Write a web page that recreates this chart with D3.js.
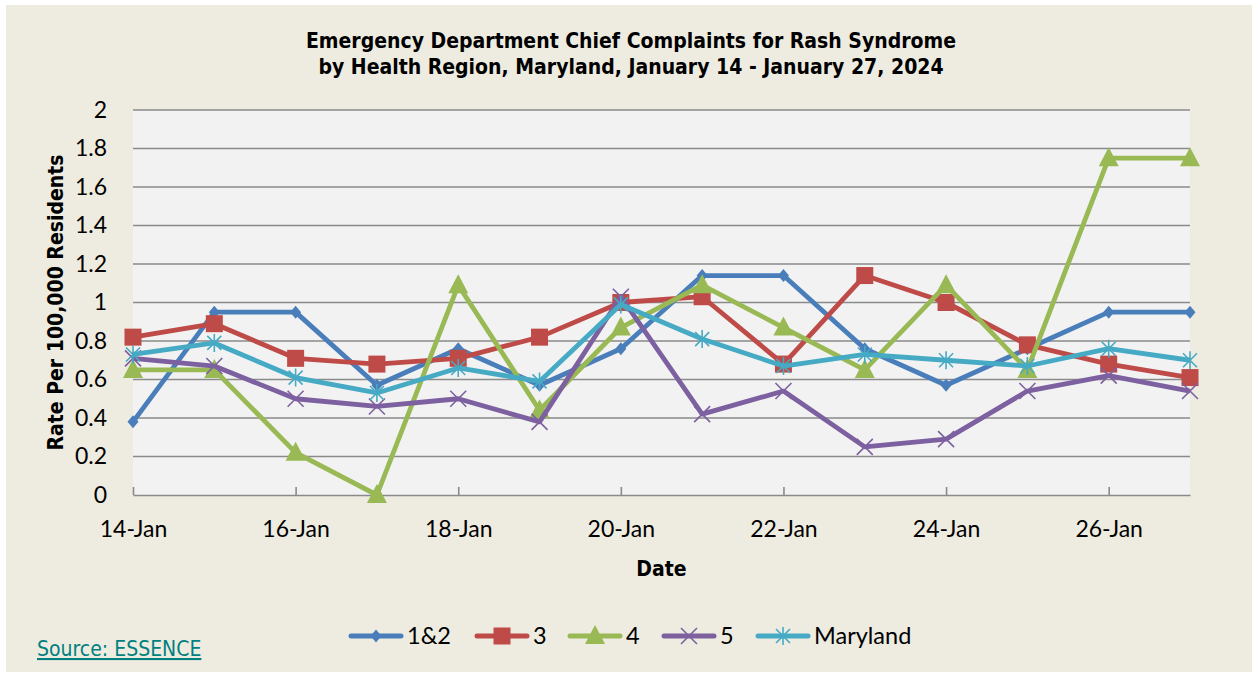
<!DOCTYPE html>
<html>
<head>
<meta charset="utf-8">
<script src="https://cdn.jsdelivr.net/npm/d3@7"></script>
<style>
  body { margin: 0; background: #ffffff; }
  svg text { fill: #000; }
</style>
</head>
<body>
<svg id="chart" width="1252" height="673"></svg>
<script>
// data
const dates = ["2024-01-14", "2024-01-15", "2024-01-16", "2024-01-17", "2024-01-18", "2024-01-19", "2024-01-20",
  "2024-01-21", "2024-01-22", "2024-01-23", "2024-01-24", "2024-01-25", "2024-01-26", "2024-01-27"];
const region12 = [0.38, 0.95, 0.95, 0.57, 0.76, 0.57, 0.76, 1.14, 1.14, 0.76, 0.57, 0.76, 0.95, 0.95];
const region3 = [0.82, 0.89, 0.71, 0.68, 0.71, 0.82, 1.00, 1.03, 0.68, 1.14, 1.00, 0.78, 0.68, 0.61];
const region4 = [0.65, 0.65, 0.22, 0.00, 1.09, 0.44, 0.87, 1.09, 0.87, 0.65, 1.09, 0.65, 1.75, 1.75];
const region5 = [0.71, 0.67, 0.50, 0.46, 0.50, 0.38, 1.03, 0.42, 0.54, 0.25, 0.29, 0.54, 0.62, 0.54];
const maryland = [0.73, 0.79, 0.61, 0.53, 0.66, 0.59, 0.99, 0.81, 0.67, 0.73, 0.70, 0.67, 0.76, 0.70];
const seriesNames = ["1&2", "3", "4", "5", "Maryland"];
const yTicks = [0, 0.2, 0.4, 0.6, 0.8, 1, 1.2, 1.4, 1.6, 1.8, 2];
const xTickDates = ["2024-01-14", "2024-01-16", "2024-01-18", "2024-01-20", "2024-01-22", "2024-01-24", "2024-01-26"];

const svg = d3.select("svg#chart");
const margin = { top: 110, right: 62, bottom: 178, left: 133 };
const width = 1252, height = 673;
const plotWidth = width - margin.left - margin.right;
const plotHeight = height - margin.top - margin.bottom;

const parseDate = d3.timeParse("%Y-%m-%d");
const dateValues = dates.map(parseDate);

const colors = d3.scaleOrdinal()
  .domain(seriesNames)
  .range(["#4a7ebb", "#be4b48", "#98b954", "#7d60a0", "#46aac5"]);
const markers = ["diamond", "square", "triangle", "cross", "star"];
const allValues = [region12, region3, region4, region5, maryland];

const series = seriesNames.map((name, i) => ({
  name: name,
  marker: markers[i],
  values: allValues[i].map((v, j) => ({ date: dateValues[j], rate: v }))
}));

// backgrounds
svg.append("rect").attr("x", 6).attr("y", 5).attr("width", width - 6).attr("height", height - 6)
  .attr("fill", "#eeece1");

const x = d3.scaleTime().domain(d3.extent(dateValues)).range([0, plotWidth]);
const y = d3.scaleLinear().domain([0, 2]).range([plotHeight, 0]);

const chartArea = svg.append("g").attr("transform", `translate(${margin.left},${margin.top})`);

chartArea.append("rect").attr("width", plotWidth).attr("height", plotHeight).attr("fill", "#f2f2f2");

// gridlines
chartArea.append("g").attr("class", "grid")
  .selectAll("line").data(yTicks.filter(d => d > 0)).join("line")
  .attr("x1", 0).attr("x2", plotWidth)
  .attr("y1", d => y(d)).attr("y2", d => y(d))
  .attr("stroke", "#8a8a8a").attr("stroke-width", 1.6);

const tickFont = "Lato, 'Open Sans', sans-serif";

// y axis (labels only)
const yAxis = d3.axisLeft(y).tickValues(yTicks).tickSize(0).tickPadding(26).tickFormat(d3.format("~g"));
const yG = chartArea.append("g").call(yAxis);
yG.select(".domain").remove();
yG.selectAll("text").style("font-family", tickFont).style("font-size", "23px").attr("fill", "#000");

// x axis
const xAxis = d3.axisBottom(x).tickValues(xTickDates.map(parseDate)).tickFormat(d3.timeFormat("%-d-%b"))
  .tickSize(0).tickPadding(26);
const xG = chartArea.append("g").attr("transform", `translate(0,${plotHeight})`).call(xAxis);
xG.select(".domain").attr("stroke", "#8a8a8a").attr("stroke-width", 1.6);
xG.selectAll("text").style("font-family", tickFont).style("font-size", "23px").attr("fill", "#000");
xG.selectAll(".tick").append("line").attr("y1", 0).attr("y2", -8).attr("stroke", "#8a8a8a").attr("stroke-width", 1.6);

// marker drawing
function drawMarker(sel, type, color) {
  if (type === "diamond") {
    sel.append("path").attr("d", "M0,-6.5L5.5,0L0,6.5L-5.5,0Z").attr("fill", color);
  } else if (type === "square") {
    sel.append("rect").attr("x", -8.5).attr("y", -8.5).attr("width", 17).attr("height", 17).attr("fill", color);
  } else if (type === "triangle") {
    sel.append("path").attr("d", "M0,-11L10,8L-10,8Z").attr("fill", color);
  } else if (type === "cross") {
    sel.append("path").attr("d", "M-8,-8L8,8M-8,8L8,-8").attr("stroke", color).attr("stroke-width", 1.6).attr("fill", "none");
  } else if (type === "star") {
    sel.append("path").attr("d", "M-7,-7L7,7M-7,7L7,-7M0,-9L0,9").attr("stroke", color).attr("stroke-width", 1.6).attr("fill", "none");
  }
}

const lineGen = d3.line().x(d => x(d.date)).y(d => y(d.rate));

series.forEach(s => {
  const g = chartArea.append("g").attr("class", "series");
  g.append("path").datum(s.values)
    .attr("fill", "none")
    .attr("stroke", colors(s.name))
    .attr("stroke-width", 4.8)
    .attr("stroke-linejoin", "round")
    .attr("d", lineGen);
  g.selectAll("g.mark").data(s.values).join("g").attr("class", "mark")
    .attr("transform", d => `translate(${x(d.date)},${y(d.rate)})`)
    .each(function () { drawMarker(d3.select(this), s.marker, colors(s.name)); });
});

// title
const titleFont = "'DejaVu Sans Condensed', 'DejaVu Sans', sans-serif";
const title = svg.append("text").attr("text-anchor", "middle")
  .style("font-family", titleFont).style("font-weight", "bold").style("font-size", "21px");
title.append("tspan").attr("x", 631).attr("y", 48).text("Emergency Department Chief Complaints for Rash Syndrome");
title.append("tspan").attr("x", 631).attr("y", 74).text("by Health Region, Maryland, January 14 - January 27, 2024");

// axis titles
svg.append("text").attr("text-anchor", "middle")
  .attr("transform", `translate(63,${margin.top + plotHeight / 2}) rotate(-90)`)
  .style("font-family", titleFont).style("font-weight", "bold").style("font-size", "21px")
  .text("Rate Per 100,000 Residents");

svg.append("text").attr("text-anchor", "middle")
  .attr("x", margin.left + plotWidth / 2).attr("y", 576)
  .style("font-family", titleFont).style("font-weight", "bold").style("font-size", "21px")
  .text("Date");

// legend
const legendX = [349, 475, 568, 662, 756];
const legend = svg.selectAll(".legendItem").data(series).join("g")
  .attr("class", "legendItem")
  .attr("transform", (d, i) => `translate(${legendX[i]},636)`);
legend.append("line").attr("x1", 2).attr("x2", 52).attr("stroke", d => colors(d.name))
  .attr("stroke-width", 5).attr("stroke-linecap", "round");
legend.each(function (d) {
  const m = d3.select(this).append("g").attr("transform", "translate(27,0)");
  drawMarker(m, d.marker, colors(d.name));
});
legend.append("text").attr("x", 58).attr("y", 8)
  .style("font-family", tickFont).style("font-size", "23.5px")
  .text(d => d.name);

// source
svg.append("text").attr("x", 37).attr("y", 656)
  .style("font-family", titleFont).style("font-size", "21px")
  .style("text-decoration", "underline").style("fill", "#00807f")
  .text("Source: ESSENCE");
</script>
</body>
</html>
